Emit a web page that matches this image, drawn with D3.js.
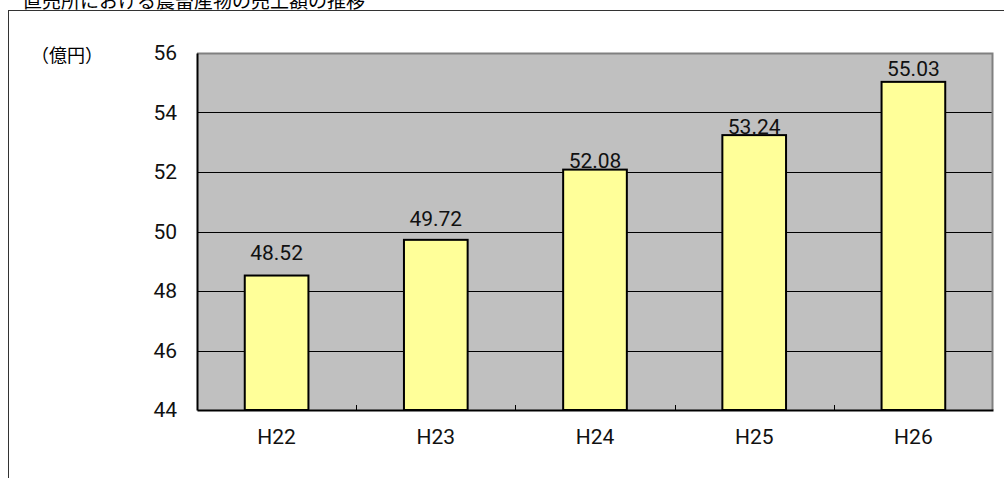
<!DOCTYPE html>
<html>
<head>
<meta charset="utf-8">
<script src="https://cdn.jsdelivr.net/npm/d3@7"></script>
<style>
  html, body { margin: 0; padding: 0; background: #fff; }
  svg { display: block; font-family: Roboto, "Liberation Sans", Arial, sans-serif; }
</style>
</head>
<body>
<svg width="1004" height="478"></svg>
<script>
const titleText = '直売所における農畜産物の売上額の推移';
const unitLabel = '（億円）';
const years = ['H22', 'H23', 'H24', 'H25', 'H26'];
const sales = [48.52, 49.72, 52.08, 53.24, 55.03];
const yTicks = [44, 46, 48, 50, 52, 54, 56];
// gap between each value label and its bar top (labels were hand-placed in the source)
const labelGap = [16, 14, 2, 1, 6];

const plotBg = '#c0c0c0';
const barFill = '#ffff99';
const gridColor = '#000';
const numFont = 'Roboto, "Liberation Sans", Arial, sans-serif';
const jpFont = '"Noto Sans CJK JP", sans-serif';

const svg = d3.select('svg');
const plot = { left: 197, top: 53, right: 993, bottom: 410 };

// outer frame (partly off-screen)
svg.append('rect')
	.attr('x', 8.5).attr('y', 10.5)
	.attr('width', 1100).attr('height', 600)
	.attr('fill', 'none').attr('stroke', '#333').attr('stroke-width', 1);

// title, cut off at the top like the source
svg.append('text')
	.attr('x', 23).attr('y', 8)
	.attr('font-family', jpFont)
	.attr('font-size', 19)
	.attr('fill', '#000')
	.text(titleText);

const x = d3.scaleBand()
	.domain(years)
	.range([plot.left, plot.right]);

const y = d3.scaleLinear()
	.domain([44, 56])
	.range([plot.bottom, plot.top]);

svg.append('rect')
	.attr('x', plot.left).attr('y', plot.top)
	.attr('width', plot.right - plot.left).attr('height', plot.bottom - plot.top)
	.attr('fill', plotBg);

// gridlines
svg.append('g')
	.selectAll('line')
	.data(yTicks.slice(1, -1))
	.join('line')
		.attr('x1', plot.left).attr('x2', plot.right)
		.attr('y1', d => Math.round(y(d)) + 0.5).attr('y2', d => Math.round(y(d)) + 0.5)
		.attr('stroke', gridColor).attr('stroke-width', 1);

// top/right border of plot area
svg.append('path')
	.attr('d', `M${plot.left},${plot.top + 0.5}H${plot.right - 0.5}V${plot.bottom}`)
	.attr('fill', 'none').attr('stroke', '#808080').attr('stroke-width', 2);

// bars
const barW = x.bandwidth() * 0.4;
svg.append('g')
	.selectAll('rect')
	.data(sales)
	.join('rect')
		.attr('x', (d, i) => x(years[i]) + (x.bandwidth() - barW) / 2)
		.attr('y', d => y(d))
		.attr('width', barW)
		.attr('height', d => plot.bottom - y(d))
		.attr('fill', barFill)
		.attr('stroke', '#000').attr('stroke-width', 2);

// value labels
svg.append('g')
	.selectAll('text')
	.data(sales)
	.join('text')
		.attr('x', (d, i) => x(years[i]) + x.bandwidth() / 2)
		.attr('y', (d, i) => y(d) - labelGap[i])
		.attr('text-anchor', 'middle')
		.attr('font-family', numFont)
		.attr('font-size', 21)
		.attr('fill', '#111')
		.text(d => d.toFixed(2));

// y axis
const yAxis = svg.append('g')
	.attr('transform', `translate(${plot.left},0)`)
	.call(d3.axisLeft(y).tickValues(yTicks).tickSize(0).tickPadding(20));
yAxis.select('.domain').attr('stroke', '#000').attr('stroke-width', 2);
yAxis.selectAll('text').attr('font-size', 21).attr('font-family', numFont).attr('fill', '#111');

// x axis
const xAxis = svg.append('g')
	.attr('transform', `translate(0,${plot.bottom})`)
	.call(d3.axisBottom(x).tickSize(0).tickPadding(19));
xAxis.select('.domain').attr('stroke', '#000').attr('stroke-width', 2);
xAxis.selectAll('text').attr('font-size', 21).attr('font-family', numFont).attr('fill', '#111');

// category separator ticks pointing up
svg.append('g')
	.selectAll('line')
	.data(years.slice(1))
	.join('line')
		.attr('x1', d => Math.round(x(d)) + 0.5).attr('x2', d => Math.round(x(d)) + 0.5)
		.attr('y1', plot.bottom).attr('y2', plot.bottom - 5)
		.attr('stroke', '#000');

svg.append('text')
	.attr('x', 31).attr('y', 62)
	.attr('font-family', jpFont)
	.attr('font-size', 18)
	.attr('fill', '#000')
	.text(unitLabel);
</script>
</body>
</html>
